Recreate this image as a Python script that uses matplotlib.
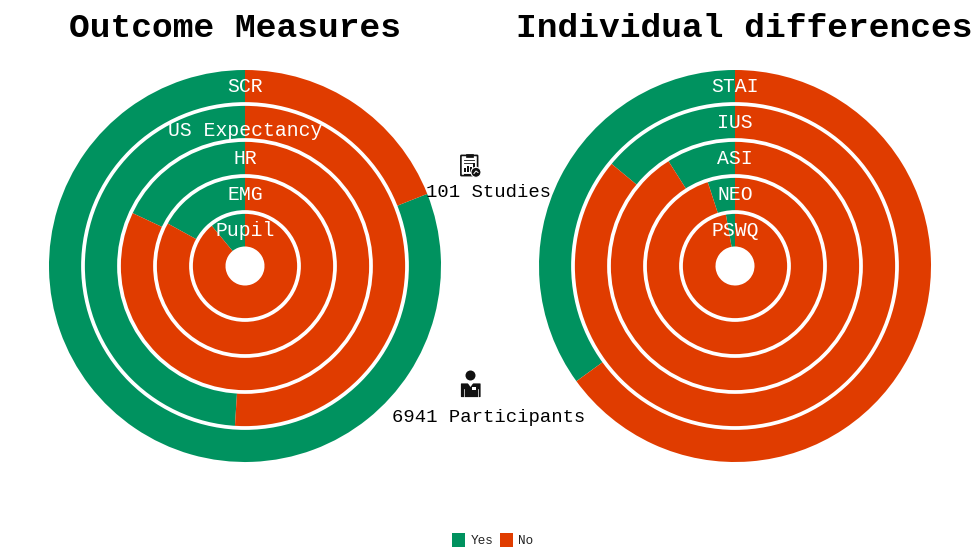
import numpy as np
import matplotlib
matplotlib.use('Agg')
import matplotlib.pyplot as plt
from matplotlib.patches import Rectangle, Circle, FancyBboxPatch, Polygon

plt.rcParams['font.family'] = ['Liberation Mono', 'DejaVu Sans']

outcome_labels = ['SCR', 'US Expectancy', 'HR', 'EMG', 'Pupil']
outcome_yes = [81, 49, 18, 17, 11]
indiv_labels = ['STAI', 'IUS', 'ASI', 'NEO', 'PSWQ']
indiv_yes = [35, 14, 9, 5, 2.8]
titles = ['Outcome Measures', 'Individual differences']

green = '#00925f'
orange = '#e03c00'
W, H = 980, 548
radii = [196, 162, 126, 90, 54]
hole = 19.5
label_r = [179, 143, 107, 71, 35]

fig = plt.figure(figsize=(W / 100, H / 100), dpi=100)


def donut(cx, cy, labels, yes, title, title_x, label_pos):
    ax = fig.add_axes([(cx - 200) / W, 1 - (cy + 200) / H, 400 / W, 400 / H])
    for i in range(len(labels)):
        r = radii[i]
        inner = radii[i + 1] if i + 1 < len(radii) else hole
        # yes goes counter clockwise from the top, the rest is no
        ax.pie([yes[i], 100 - yes[i]], colors=[green, orange], radius=r, startangle=90,
               wedgeprops={'width': r - inner, 'linewidth': 0}, frame=True)
        if i > 0:
            ax.add_patch(Circle((0, 0), r, fill=False, ec='white', lw=2.7, zorder=5))
        ax.text(0, label_pos[i], labels[i], color='white', fontsize=14.2,
                ha='center', va='center', zorder=6)
    ax.set_xlim(-200, 200)
    ax.set_ylim(-200, 200)
    ax.set_aspect('equal')
    ax.axis('off')
    fig.text(title_x / W, 1 - 28.5 / H, title, fontsize=24.8, fontweight='bold',
             ha='center', va='center', color='black')


donut(245, 266, outcome_labels, outcome_yes, titles[0], 234.5, [179, 136, 107, 71, 35])
donut(735, 266, indiv_labels, indiv_yes, titles[1], 744, label_r)

# overlay in pixel coordinates for the centre notes, icons and legend
ov = fig.add_axes([0, 0, 1, 1], facecolor='none')
ov.set_xlim(0, W)
ov.set_ylim(H, 0)
ov.axis('off')

ov.text(489, 192.5, '101 Studies', fontsize=13.6, ha='center', va='center', color='black')
ov.text(489, 417.5, '6941 Participants', fontsize=13.6, ha='center', va='center', color='black')

# clipboard icon
ink = '#111111'
ov.add_patch(FancyBboxPatch((461.5, 156), 15.5, 19, boxstyle='round,pad=0.6', fc='white', ec=ink, lw=1.2))
ov.add_patch(Rectangle((465.5, 153.5), 7.5, 3.5, fc=ink, ec=ink, lw=0.5))
for ly in [160, 162.5]:
    ov.plot([464, 474], [ly, ly], color=ink, lw=0.6)
for bx, bh in zip([464, 467, 470, 473], [4, 6, 5, 9]):
    ov.add_patch(Rectangle((bx, 172 - bh), 2, bh, fc=ink, ec='none'))
ov.plot([464, 472], [173.5, 173.5], color=ink, lw=0.8)
ov.add_patch(Circle((476, 172.3), 5, fc=ink, ec='white', lw=0.8, zorder=4))
ov.plot([474, 476, 478], [173.5, 171, 172.5], color='white', lw=0.7, zorder=5)

# person icon
ov.add_patch(Circle((470.5, 375.5), 5, fc=ink, ec='none'))
ov.add_patch(FancyBboxPatch((461.5, 384), 18.5, 12.5, boxstyle='round,pad=0.6', fc=ink, ec='none'))
ov.add_patch(Polygon([(467, 382), (474, 382), (470.5, 387)], fc='white', ec='none'))
ov.add_patch(Rectangle((471.5, 387), 4.5, 2.5, fc='white', ec='none'))
ov.plot([464, 464], [389, 397], color='white', lw=0.5)
ov.plot([477.5, 477.5], [389, 397], color='white', lw=0.5)

# legend
ov.add_patch(Rectangle((451.7, 533.3), 13.3, 13.4, fc=green, ec='none'))
ov.add_patch(Rectangle((499.5, 533.3), 13.5, 13.4, fc=orange, ec='none'))
ov.text(471, 541, 'Yes', fontsize=9.2, ha='left', va='center', color='#222222')
ov.text(518, 541, 'No', fontsize=9.2, ha='left', va='center', color='#222222')

fig.savefig('out.png', dpi=100)
